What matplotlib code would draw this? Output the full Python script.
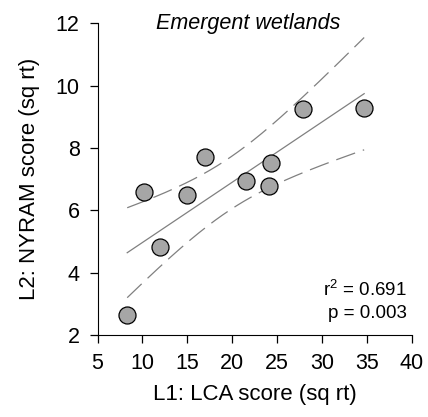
import numpy as np
import matplotlib
matplotlib.use("Agg")
import matplotlib.pyplot as plt

plt.rcParams['font.family'] = ['Liberation Sans', 'DejaVu Sans']

lca = [8.3, 10.2, 11.9, 15.0, 17.0, 21.5, 24.1, 24.3, 27.9, 34.7]
nyram = [2.65, 6.57, 4.81, 6.49, 7.70, 6.95, 6.79, 7.52, 9.24, 9.29]
xticks = [5, 10, 15, 20, 25, 30, 35, 40]
yticks = [2, 4, 6, 8, 10, 12]

x = np.array(lca)
y = np.array(nyram)
n = len(x)
b1, b0 = np.polyfit(x, y, 1)
resid = y - (b0 + b1 * x)
s = np.sqrt(np.sum(resid**2) / (n - 2))
xs = np.linspace(x.min(), x.max(), 200)
ys = b0 + b1 * xs
t = 2.306
se = s * np.sqrt(1 / n + (xs - x.mean())**2 / np.sum((x - x.mean())**2))

fig = plt.figure(figsize=(4.28, 4.17), dpi=100)
ax = fig.add_axes([0.228, 0.197, 0.734, 0.747])
ax.plot(xs, ys, color='#808080', lw=0.9, zorder=2)
ax.plot(xs, ys + t * se, color='#808080', lw=0.9, dashes=(16, 6.5), zorder=2)
ax.plot(xs, ys - t * se, color='#808080', lw=0.9, dashes=(16, 6.5), zorder=2)
ax.scatter(x, y, s=150, facecolor='#a6a6a6', edgecolor='black', linewidth=0.9, zorder=3)

ax.set_xlim(5, 40)
ax.set_ylim(2, 12)
ax.set_xticks(xticks)
ax.set_yticks(yticks)
ax.spines['top'].set_visible(False)
ax.spines['right'].set_visible(False)
ax.tick_params(direction='out', length=6, labelsize=15.5, width=0.9, pad=7)
ax.set_xlabel('L1: LCA score (sq rt)', fontsize=16, labelpad=7)
ax.set_ylabel('L2: NYRAM score (sq rt)', fontsize=16, labelpad=11)
ax.text(0.48, 1.0, 'Emergent wetlands', transform=ax.transAxes, ha='center', va='center',
        fontsize=15.5, style='italic')
ax.text(0.985, 0.145, '$\\mathregular{r^2}$ = 0.691', transform=ax.transAxes, ha='right', va='center',
        fontsize=13.5)
ax.text(0.985, 0.07, 'p = 0.003', transform=ax.transAxes, ha='right', va='center', fontsize=13.5)

fig.savefig('out.png', dpi=100)
